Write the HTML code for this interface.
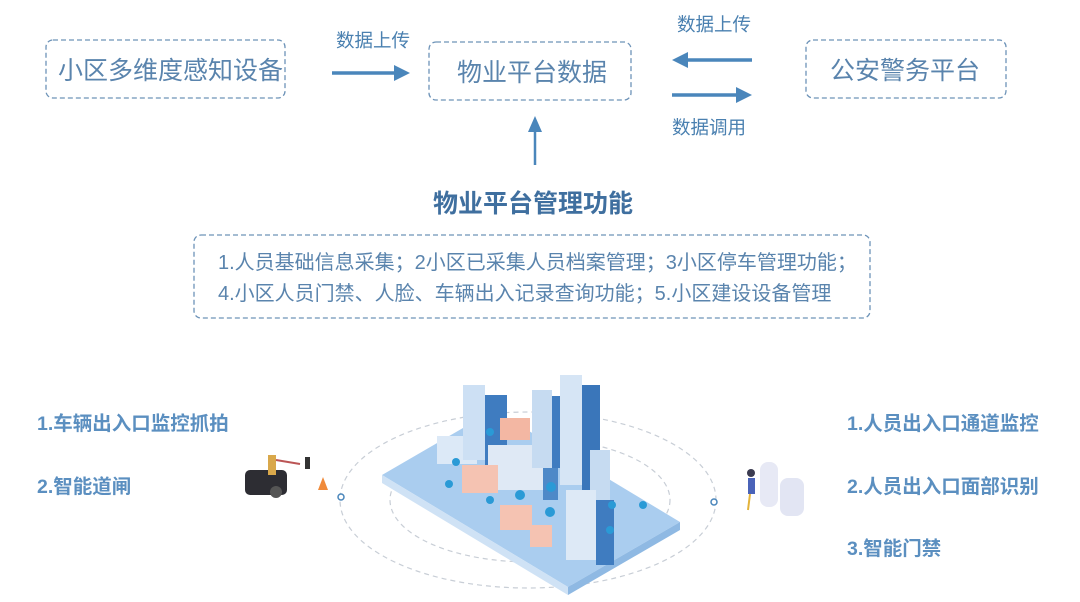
<!DOCTYPE html>
<html><head><meta charset="utf-8"><style>
html,body{margin:0;padding:0;background:#fff;}
body{width:1080px;height:602px;overflow:hidden;position:relative;font-family:"Liberation Sans","Noto Sans CJK SC",sans-serif;color:#4a80b0;}
.t{position:absolute;white-space:nowrap;line-height:1;}
</style></head><body>
<svg width="1080" height="602" style="position:absolute;left:0;top:0">
<g fill="none" stroke="#6d93b8" stroke-width="1.3" stroke-dasharray="5,3">
<rect x="46" y="40" width="239" height="58" rx="7"/>
<rect x="429" y="42" width="202" height="58" rx="7"/>
<rect x="806" y="40" width="200" height="58" rx="7"/>
<rect x="194" y="235" width="676" height="83" rx="7"/>
</g>
<g stroke="#4a86bb" stroke-width="3.5" fill="#4a86bb">
<line x1="332" y1="73" x2="396" y2="73"/><path d="M410,73 L394,65 L394,81Z" stroke="none"/>
<line x1="752" y1="60" x2="686" y2="60"/><path d="M672,60 L688,52 L688,68Z" stroke="none"/>
<line x1="672" y1="95" x2="738" y2="95"/><path d="M752,95 L736,87 L736,103Z" stroke="none"/>
<line x1="535" y1="165" x2="535" y2="130" stroke-width="2.5"/><path d="M535,116 L528,132 L542,132Z" stroke="none"/>
</g>
<g fill="none" stroke="#c8ced6" stroke-width="1.2" stroke-dasharray="5,4">
<ellipse cx="528" cy="500" rx="188" ry="88"/>
<ellipse cx="530" cy="500" rx="140" ry="62"/>
</g>
<circle cx="341" cy="497" r="3" fill="#fff" stroke="#4a86bb" stroke-width="1.5"/>
<circle cx="714" cy="502" r="3" fill="#fff" stroke="#4a86bb" stroke-width="1.5"/>
<path d="M382,475 L494,410 L680,522 L568,587 Z" fill="#aacdef"/>
<path d="M382,475 L568,587 L568,595 L382,483Z" fill="#cfe2f5"/>
<path d="M568,587 L680,522 L680,530 L568,595Z" fill="#8fb9e3"/>
<g>
<rect x="437" y="436" width="40" height="28" fill="#dce9f7"/>
<rect x="485" y="395" width="22" height="70" fill="#3f7cc0"/><rect x="463" y="385" width="22" height="75" fill="#cde0f4"/>
<rect x="500" y="418" width="30" height="22" fill="#f3b7a3"/>
<rect x="488" y="445" width="55" height="45" fill="#dfe9f5"/><rect x="543" y="455" width="15" height="45" fill="#4e89c8"/>
<rect x="462" y="465" width="36" height="28" fill="#f5c3b2"/>
<rect x="532" y="390" width="20" height="78" fill="#c6dbf1"/><rect x="552" y="396" width="10" height="72" fill="#3f7cc0"/>
<rect x="560" y="375" width="22" height="110" fill="#d6e5f5"/><rect x="582" y="385" width="18" height="110" fill="#3a76ba"/>
<rect x="590" y="450" width="20" height="110" fill="#c6dbf1"/><rect x="566" y="490" width="30" height="70" fill="#dde9f6"/><rect x="596" y="500" width="18" height="65" fill="#3f7cc0"/>
<rect x="500" y="505" width="32" height="25" fill="#f5c3b2"/><rect x="530" y="525" width="22" height="22" fill="#f5c3b2"/>
</g>
<g fill="#2a9ad6">
<circle cx="449" cy="484" r="4"/><circle cx="456" cy="462" r="4"/><circle cx="490" cy="432" r="4"/><circle cx="490" cy="500" r="4"/>
<circle cx="520" cy="495" r="5"/><circle cx="551" cy="487" r="5"/><circle cx="550" cy="512" r="5"/><circle cx="643" cy="505" r="4"/><circle cx="612" cy="505" r="4"/><circle cx="610" cy="530" r="4"/>
</g>
<rect x="245" y="470" width="42" height="25" rx="5" fill="#2d2d33"/>
<circle cx="276" cy="492" r="6" fill="#555"/>
<rect x="268" y="455" width="8" height="20" fill="#d9a84b"/>
<line x1="276" y1="460" x2="300" y2="464" stroke="#b55" stroke-width="2"/>
<rect x="305" y="457" width="5" height="12" fill="#333"/>
<path d="M318,490 L323,477 L328,490Z" fill="#f08a3a"/>
<rect x="760" y="462" width="18" height="45" rx="8" fill="#e7e9f5"/>
<rect x="780" y="478" width="24" height="38" rx="8" fill="#e2e5f3"/>
<rect x="748" y="478" width="7" height="16" fill="#4a63b8"/><circle cx="751" cy="473" r="4" fill="#3b3b50"/>
<line x1="750" y1="494" x2="748" y2="510" stroke="#e3b33a" stroke-width="2"/>
</svg>
<div class="t" style="left:58px;top:59px;font-size:25px;color:#5a84ad">小区多维度感知设备</div>
<div class="t" style="left:336px;top:32px;font-size:18.5px">数据上传</div>
<div class="t" style="left:457px;top:61px;font-size:25px;color:#5a84ad">物业平台数据</div>
<div class="t" style="left:677px;top:16px;font-size:18.5px">数据上传</div>
<div class="t" style="left:672px;top:119px;font-size:18.5px">数据调用</div>
<div class="t" style="left:830px;top:59px;font-size:25px;color:#5a84ad">公安警务平台</div>
<div class="t" style="left:433px;top:192px;font-size:25px;font-weight:bold;color:#3f6f9f">物业平台管理功能</div>
<div class="t" style="left:218px;top:253px;font-size:20px;color:#5a84ad">1.人员基础信息采集；2小区已采集人员档案管理；3小区停车管理功能；</div>
<div class="t" style="left:218px;top:284px;font-size:20px;color:#5a84ad">4.小区人员门禁、人脸、车辆出入记录查询功能；5.小区建设设备管理</div>
<div class="t" style="left:37px;top:415px;font-size:19.5px;font-weight:bold;color:#5b8fc0">1.车辆出入口监控抓拍</div>
<div class="t" style="left:37px;top:478px;font-size:19.5px;font-weight:bold;color:#5b8fc0">2.智能道闸</div>
<div class="t" style="left:847px;top:415px;font-size:19.5px;font-weight:bold;color:#5b8fc0">1.人员出入口通道监控</div>
<div class="t" style="left:847px;top:478px;font-size:19.5px;font-weight:bold;color:#5b8fc0">2.人员出入口面部识别</div>
<div class="t" style="left:847px;top:540px;font-size:19.5px;font-weight:bold;color:#5b8fc0">3.智能门禁</div>
</body></html>
